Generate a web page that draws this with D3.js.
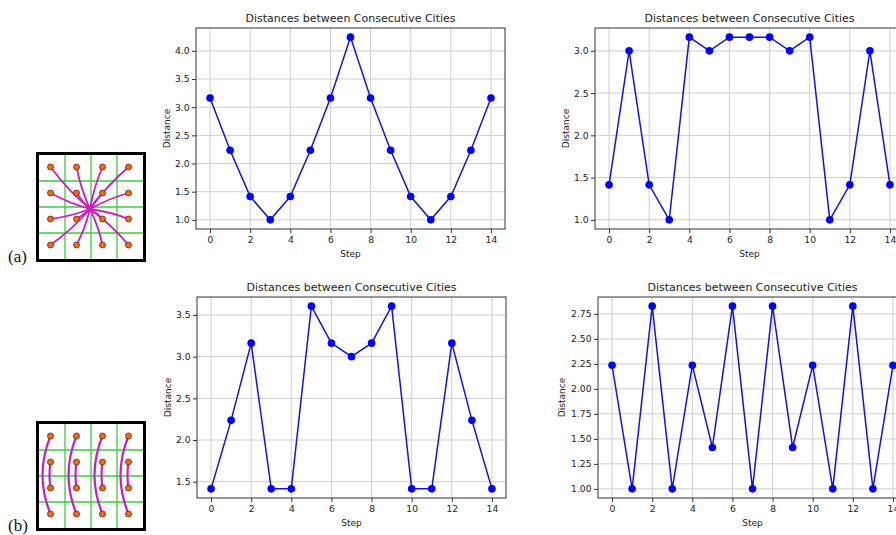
<!DOCTYPE html>
<html>
<head>
<meta charset="utf-8">
<script src="https://cdn.jsdelivr.net/npm/d3@7"></script>
<style>
  body { margin: 0; background: #fff; }
  text { font-family: "DejaVu Sans", sans-serif; fill: #222; }
</style>
</head>
<body>
<script>
//chart values
var steps = [0, 1, 2, 3, 4, 5, 6, 7, 8, 9, 10, 11, 12, 13, 14];
var xTicks = [0, 2, 4, 6, 8, 10, 12, 14];

var distA1 = [3.162, 2.236, 1.414, 1.0, 1.414, 2.236, 3.162, 4.243, 3.162, 2.236, 1.414, 1.0, 1.414, 2.236, 3.162];
var distA2 = [1.414, 3.0, 1.414, 1.0, 3.162, 3.0, 3.162, 3.162, 3.162, 3.0, 3.162, 1.0, 1.414, 3.0, 1.414];
var distB1 = [1.414, 2.236, 3.162, 1.414, 1.414, 3.606, 3.162, 3.0, 3.162, 3.606, 1.414, 1.414, 3.162, 2.236, 1.414];
var distB2 = [2.236, 1.0, 2.828, 1.0, 2.236, 1.414, 2.828, 1.0, 2.828, 1.414, 2.236, 1.0, 2.828, 1.0, 2.236];

var yTicksA1 = [1.0, 1.5, 2.0, 2.5, 3.0, 3.5, 4.0];
var yTicksA2 = [1.0, 1.5, 2.0, 2.5, 3.0];
var yTicksB1 = [1.5, 2.0, 2.5, 3.0, 3.5];
var yTicksB2 = [1.00, 1.25, 1.50, 1.75, 2.00, 2.25, 2.50, 2.75];

//4x4 grid of cities for the small diagrams
var gridIdx = [0, 1, 2, 3];
//(b) tour: per column an outer arc (row 0 to 3) and an inner link (row 1 to 2)
var tourB = [[0, 0, 3], [0, 1, 2], [1, 0, 3], [1, 1, 2], [2, 0, 3], [2, 1, 2], [3, 0, 3], [3, 1, 2]];

var width = 896,
    height = 535;

var svg = d3.select("body")
    .append("svg")
    .attr("width", width)
    .attr("height", height);

//line chart panels
var panels = [
    {data: distA1, ticks: yTicksA1, fmt: ".1f", left: 196, top: 28, labelX: 167},
    {data: distA2, ticks: yTicksA2, fmt: ".1f", left: 595, top: 28, labelX: 566},
    {data: distB1, ticks: yTicksB1, fmt: ".1f", left: 197, top: 297, labelX: 168},
    {data: distB2, ticks: yTicksB2, fmt: ".2f", left: 598, top: 297, labelX: 562}
];

var pw = 309,
    ph = 201;

panels.forEach(function(p){
    var g = svg.append("g")
        .attr("transform", "translate(" + p.left + "," + p.top + ")");

    var x = d3.scaleLinear()
        .domain([-0.7, 14.7])
        .range([0, pw]);

    //matplotlib style 5% margins
    var ext = d3.extent(p.data);
    var pad = (ext[1] - ext[0]) * 0.05;
    var y = d3.scaleLinear()
        .domain([ext[0] - pad, ext[1] + pad])
        .range([ph, 0]);

    //grid
    g.selectAll(".vgrid")
        .data(xTicks)
        .enter()
        .append("line")
        .attr("x1", function(d){ return x(d); })
        .attr("x2", function(d){ return x(d); })
        .attr("y1", 0)
        .attr("y2", ph)
        .attr("stroke", "#cfcfcf")
        .attr("stroke-width", 1);

    g.selectAll(".hgrid")
        .data(p.ticks)
        .enter()
        .append("line")
        .attr("x1", 0)
        .attr("x2", pw)
        .attr("y1", function(d){ return y(d); })
        .attr("y2", function(d){ return y(d); })
        .attr("stroke", "#cfcfcf")
        .attr("stroke-width", 1);

    //axes
    var xAxis = g.append("g")
        .attr("transform", "translate(0," + ph + ")")
        .call(d3.axisBottom(x).tickValues(xTicks).tickSize(4).tickPadding(3));
    var yAxis = g.append("g")
        .call(d3.axisLeft(y).tickValues(p.ticks).tickFormat(d3.format(p.fmt)).tickSize(4).tickPadding(2.5));

    [xAxis, yAxis].forEach(function(a){
        a.select(".domain").remove();
        a.selectAll("line").attr("stroke", "#333");
        a.selectAll("text")
            .style("font-family", "'DejaVu Sans', sans-serif")
            .style("font-size", "9.2px")
            .attr("fill", "#2a2a2a");
    });

    //frame
    g.append("rect")
        .attr("width", pw)
        .attr("height", ph)
        .attr("fill", "none")
        .attr("stroke", "#333")
        .attr("stroke-width", 1);

    //series
    var line = d3.line()
        .x(function(d, i){ return x(steps[i]); })
        .y(function(d){ return y(d); });

    g.append("path")
        .datum(p.data)
        .attr("d", line)
        .attr("fill", "none")
        .attr("stroke", "#1414d4")
        .attr("stroke-width", 1.5);

    g.selectAll(".pt")
        .data(p.data)
        .enter()
        .append("circle")
        .attr("cx", function(d, i){ return x(steps[i]); })
        .attr("cy", function(d){ return y(d); })
        .attr("r", 3.8)
        .attr("fill", "#0000ff");

    //labels
    g.append("text")
        .attr("x", pw / 2)
        .attr("y", -6)
        .attr("text-anchor", "middle")
        .style("font-size", "11px")
        .text("Distances between Consecutive Cities");

    g.append("text")
        .attr("x", pw / 2)
        .attr("y", ph + 28)
        .attr("text-anchor", "middle")
        .style("font-size", "9px")
        .text("Step");

    g.append("text")
        .attr("transform", "translate(" + (p.labelX - p.left + 3) + "," + (ph / 2) + ") rotate(-90)")
        .attr("text-anchor", "middle")
        .style("font-size", "9px")
        .text("Distance");
});

//small city grid diagrams
function drawGrid(left, top, label, drawTour){
    var cell = 26;
    var g = svg.append("g")
        .attr("transform", "translate(" + left + "," + top + ")");

    var gx = d3.scaleLinear().domain([-0.5, 3.5]).range([0, cell * 4]);

    g.append("rect")
        .attr("width", cell * 4)
        .attr("height", cell * 4)
        .attr("fill", "#fff");

    g.selectAll(".gl")
        .data([0.5, 1.5, 2.5])
        .enter()
        .append("line")
        .attr("x1", function(d){ return gx(d); })
        .attr("x2", function(d){ return gx(d); })
        .attr("y1", 0)
        .attr("y2", cell * 4)
        .attr("stroke", "#3ccc3c")
        .attr("stroke-width", 1.3);

    g.selectAll(".gh")
        .data([0.5, 1.5, 2.5])
        .enter()
        .append("line")
        .attr("y1", function(d){ return gx(d); })
        .attr("y2", function(d){ return gx(d); })
        .attr("x1", 0)
        .attr("x2", cell * 4)
        .attr("stroke", "#3ccc3c")
        .attr("stroke-width", 1.3);

    var cities = [];
    gridIdx.forEach(function(r){
        gridIdx.forEach(function(c){
            cities.push({c: c, r: r, x: gx(c) - 1.5, y: gx(r) - 1});
        });
    });

    drawTour(g, cities, gx);

    g.selectAll(".city")
        .data(cities)
        .enter()
        .append("circle")
        .attr("cx", function(d){ return d.x; })
        .attr("cy", function(d){ return d.y; })
        .attr("r", 3)
        .attr("fill", "#f26a1b")
        .attr("stroke", "#6a2a00")
        .attr("stroke-width", 0.8);

    g.append("rect")
        .attr("x", -1.5)
        .attr("y", -1.5)
        .attr("width", cell * 4 + 3)
        .attr("height", cell * 4 + 3)
        .attr("fill", "none")
        .attr("stroke", "#000")
        .attr("stroke-width", 3);

    svg.append("text")
        .attr("x", 8)
        .attr("y", top + cell * 4 + 3)
        .style("font-family", "'Liberation Serif', 'Times New Roman', serif")
        .style("font-size", "17px")
        .style("fill", "#111")
        .text(label);
}

//(a) every city linked towards the middle
drawGrid(39, 155, "(a)", function(g, cities, gx){
    var cx = gx(1.5) - 1, cy = gx(1.5) + 2;
    g.selectAll(".route")
        .data(cities)
        .enter()
        .append("path")
        .attr("d", function(d){
            var mx = (d.x + cx) / 2 + (d.y - cy) * 0.06,
                my = (d.y + cy) / 2 - (d.x - cx) * 0.06;
            return "M" + d.x + "," + d.y + "Q" + mx + "," + my + " " + cx + "," + cy;
        })
        .attr("fill", "none")
        .attr("stroke", "#c81ec8")
        .attr("stroke-width", 1.8);
});

//(b) arcs down each column
drawGrid(39, 424, "(b)", function(g, cities, gx){
    g.selectAll(".route")
        .data(tourB)
        .enter()
        .append("path")
        .attr("d", function(d){
            var x0 = gx(d[0]) - 1.5,
                y0 = gx(d[1]) - 1,
                y1 = gx(d[2]) - 1;
            var bend = d[2] - d[1] > 2 ? 16 : 2;
            return "M" + x0 + "," + y0 + "Q" + (x0 - bend) + "," + ((y0 + y1) / 2) + " " + x0 + "," + y1;
        })
        .attr("fill", "none")
        .attr("stroke", "#c81ec8")
        .attr("stroke-width", 2.2);
});
</script>
</body>
</html>
